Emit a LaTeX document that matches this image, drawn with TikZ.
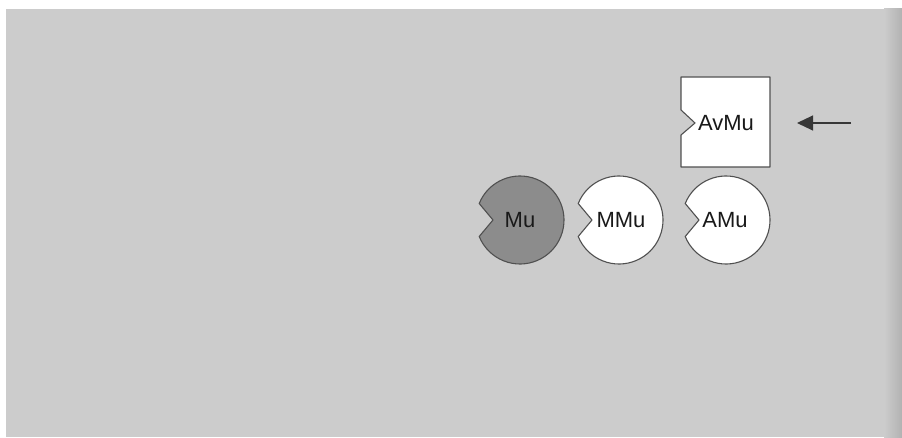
\documentclass[tikz,border=0pt]{standalone}
\usepackage{fontspec}
\setmainfont{Liberation Sans}
\usetikzlibrary{arrows.meta}
\definecolor{bggray}{RGB}{204,204,204}
\definecolor{edgegray}{RGB}{80,80,80}
\definecolor{mugray}{RGB}{140,140,140}
\definecolor{darkstrip}{RGB}{178,178,178}
\definecolor{arrowcol}{RGB}{55,55,55}
\tikzset{
  blob/.style={draw=edgegray, line width=1.1pt, line join=round},
  lbl/.style={font=\fontsize{22}{24}\selectfont, text=black!90, inner sep=0pt},
  pointer/.style={draw=arrowcol, line width=1.1pt, -{Triangle[length=16pt,width=15pt,fill=arrowcol]}}
}
\begin{document}
\begin{tikzpicture}[x=1pt,y=1pt]
\useasboundingbox (0,0) rectangle (902,437);
\fill[white] (0,0) rectangle (902,437);
\fill[bggray] (6,0) rectangle (902,428);
\shade[left color=bggray, right color=darkstrip] (884,0) rectangle (902,428);
% notched circles
\path[blob, fill=mugray] (520,217) ++(158:44) arc[start angle=158, end angle=-158, radius=44] -- (493,217) -- cycle
  (520,217) node[lbl] (mu) {Mu};
\path[blob, fill=white] (619,217) ++(158:44) arc[start angle=158, end angle=-158, radius=44] -- (592,217) -- cycle
  (621,217) node[lbl] (mmu) {MMu};
\path[blob, fill=white] (726,217) ++(158:44) arc[start angle=158, end angle=-158, radius=44] -- (699,217) -- cycle
  (725,217) node[lbl] (amu) {AMu};
% notched rectangle
\path[blob, fill=white] (681,360) -- (770,360) -- (770,270) -- (681,270) -- (681,302) -- (695,314) -- (681,327) -- cycle
  (726,314) node[lbl] (avmu) {AvMu};
% arrow
\coordinate (arrowtail) at (851,314);
\coordinate (arrowtip) at (797,314);
\draw[pointer] (arrowtail) -- (arrowtip);
\end{tikzpicture}
\end{document}
